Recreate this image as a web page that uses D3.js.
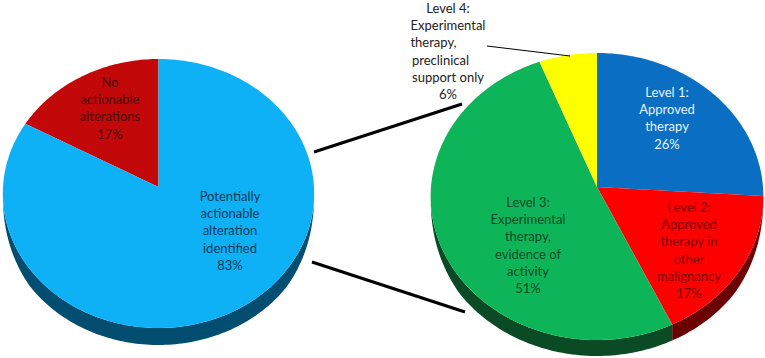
<!DOCTYPE html>
<html>
<head>
<meta charset="utf-8">
<script src="https://cdn.jsdelivr.net/npm/d3@7"></script>
<style>
	html, body { margin: 0; padding: 0; background: #fff; }
	svg { display: block; }
	text { font-family: Lato, "Open Sans", sans-serif; font-size: 13px; text-anchor: middle; dominant-baseline: central; }
</style>
</head>
<body>
<div id="chart"></div>
<script>
(function(){
	'use strict';

	// left pie
	var overallValues = [83, 17];
	var overallColors = ["#0eb1f6", "#c20808"];
	var overallDark = ["#034e70", "#5f0404"];
	var overallLabels = [
		["Potentially", "actionable", "alteration", "identified", "83%"],
		["No", "actionable", "alterations", "17%"]
	];
	var overallLabelColors = ["#0b3a55", "#470808"];

	// right pie
	var levelValues = [26, 17, 51, 6];
	var levelColors = ["#0a6fc2", "#ff0000", "#0db558", "#ffff00"];
	var levelDark = ["#053a66", "#6a0000", "#0a4a24", "#777700"];
	var levelLabels = [
		["Level 1:", "Approved", "therapy", "26%"],
		["Level 2:", "Approved", "therapy in", "other", "malignancy", "17%"],
		["Level 3:", "Experimental", "therapy,", "evidence of", "activity", "51%"],
		["Level 4:", "Experimental", "therapy,", "preclinical", "support only", "6%"]
	];
	var levelLabelColors = ["#e6f3ff", "#7c0000", "#0a4a25", "#222222"];

	var width = 765, height = 358;
	var lineGap = 17.2;

	var svg = d3.select("#chart").append("svg")
		.attr("width", width)
		.attr("height", height);

	// tilted pie: circle seen in perspective, so the centre sits above the middle of the ellipse
	function makeProjection(cx, cy, top, bottom, radius){
		var c = (2 * cy - bottom - top) / (bottom - top);
		var a = bottom * (1 + c) - cy;
		return function(angle){
			var u = Math.sin(angle), v = -Math.cos(angle);
			var w = 1 + c * v;
			return [cx + radius * u / w, (a * v + cy) / w];
		};
	}

	var line = d3.line();

	function angleRange(start, end){
		var steps = Math.max(2, Math.ceil((end - start) / 0.02));
		return d3.range(steps + 1).map(function(i){
			return start + (end - start) * i / steps;
		});
	}

	// wall is thin at the sides of the pie and gets its full depth towards the front
	function wallDepth(angle, depth){
		var v = -Math.cos(angle);
		if(v <= 0.1) return 0;
		return depth * Math.min(1, Math.sqrt((v - 0.1) / 0.5));
	}

	function drawPie(conf){
		var project = makeProjection(conf.cx, conf.cy, conf.top, conf.bottom, conf.radius);
		var pie = d3.pie().sort(null).startAngle(conf.start).endAngle(conf.start + 2 * Math.PI);
		var slices = pie(conf.values);
		var g = svg.append("g");

		// side wall first, the faces go on top of it
		slices.forEach(function(d, i){
			var angles = angleRange(d.startAngle, d.endAngle);
			var rim = angles.map(project);
			var lower = angles.map(function(a, j){
				return [rim[j][0], rim[j][1] + wallDepth(a, conf.depth)];
			}).reverse();
			g.append("path")
				.attr("d", line(rim.concat(lower)) + "Z")
				.attr("fill", conf.dark[i]);
		});

		slices.forEach(function(d, i){
			var rim = angleRange(d.startAngle, d.endAngle).map(project);
			g.append("path")
				.attr("d", line([[conf.cx, conf.cy]].concat(rim)) + "Z")
				.attr("fill", conf.colors[i]);
		});
	}

	function drawLabel(lines, x, y, color, offsets){
		var t = svg.append("text").attr("fill", color);
		lines.forEach(function(s, i){
			t.append("tspan")
				.attr("x", x + (offsets ? offsets[i] : 0))
				.attr("y", y + i * lineGap)
				.text(s);
		});
	}

	drawPie({
		cx: 158.5, cy: 187, top: 59, bottom: 328, radius: 155.5, depth: 17,
		start: -2 * Math.PI * 0.17,
		values: overallValues.slice().reverse(),
		colors: overallColors.slice().reverse(),
		dark: overallDark.slice().reverse()
	});

	drawPie({
		cx: 597, cy: 187, top: 53, bottom: 340, radius: 166, depth: 16,
		start: 0,
		values: levelValues,
		colors: levelColors,
		dark: levelDark
	});

	drawLabel(overallLabels[0], 230, 196, overallLabelColors[0]);
	drawLabel(overallLabels[1], 110, 82, overallLabelColors[1]);
	drawLabel(levelLabels[0], 667, 92, levelLabelColors[0]);
	drawLabel(levelLabels[1], 689, 207, levelLabelColors[1]);
	drawLabel(levelLabels[2], 528, 202, levelLabelColors[2]);
	drawLabel(levelLabels[3], 448, 8, levelLabelColors[3], [0, 0, -14.5, -7.5, 0, 0]);

	// connectors between the two pies
	var connectors = [
		[[314, 152], [462, 104], 3],
		[[312, 262], [465, 312], 3],
		[[487, 46], [570, 56], 1]
	];
	connectors.forEach(function(c){
		svg.append("line")
			.attr("x1", c[0][0]).attr("y1", c[0][1])
			.attr("x2", c[1][0]).attr("y2", c[1][1])
			.attr("stroke", "#000")
			.attr("stroke-width", c[2]);
	});
})();
</script>
</body>
</html>
